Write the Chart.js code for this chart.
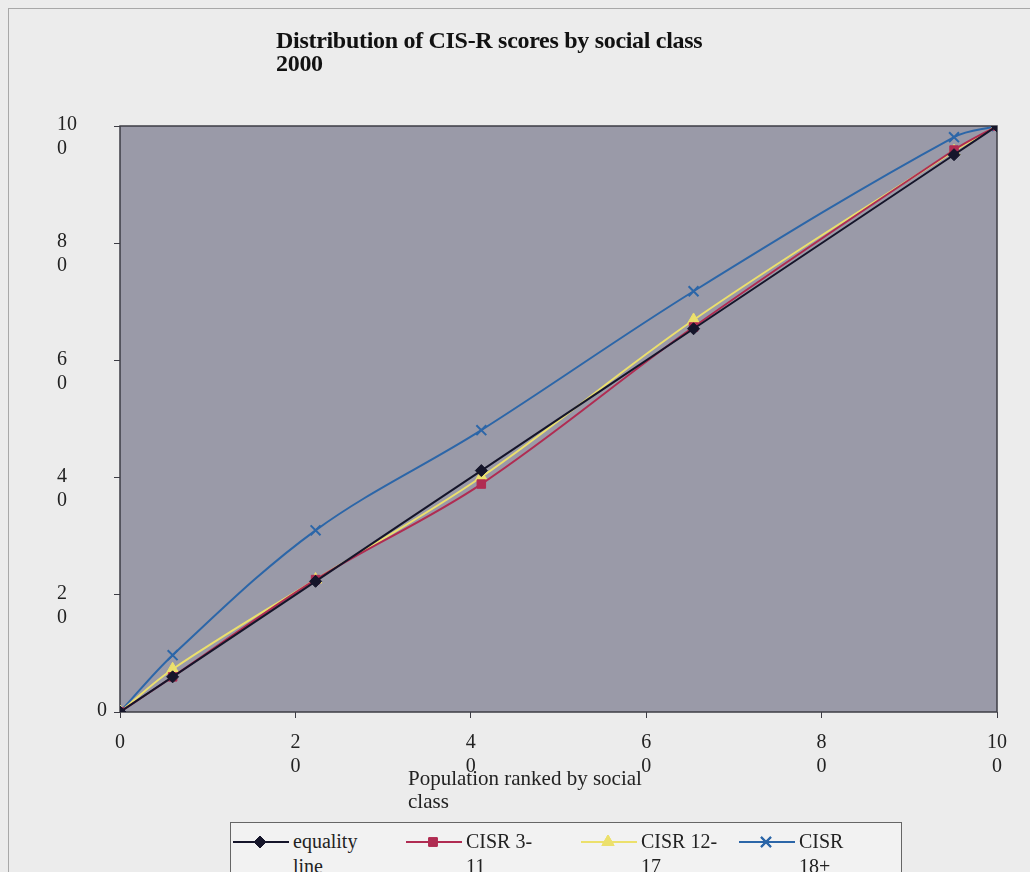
<!DOCTYPE html>
<html>
<head>
  <title>CIS-R scores by social class</title>
  <script src="https://cdn.jsdelivr.net/npm/chart.js"></script>
  <style>
    body { margin: 0; background: #ececec; font-family: "Liberation Serif", serif; }
    #frame { position: absolute; left: 8px; top: 8px; width: 1022px; height: 864px;
             border-top: 1px solid #a8a8a8; border-left: 1px solid #a8a8a8; overflow: hidden; }
    #wrap { position: absolute; left: 0; top: 0; width: 1030px; height: 800px; }
    #title { position: absolute; left: 276px; top: 29px; font-weight: bold; font-size: 24px; line-height: 23px; color: #111; letter-spacing: -0.3px; }
    #xTitle { position: absolute; left: 408px; top: 767px; font-size: 21px; line-height: 23px; color: #222; }
    #legend { position: absolute; left: 230px; top: 822px; width: 670px; height: 60px;
              border: 1px solid #666; background: #f2f2f2; }
    .item { position: absolute; top: 6px; font-size: 20px; line-height: 25px; color: #222; }
    .item canvas { position: absolute; left: 0; top: 3px; }
    .item span { position: absolute; left: 60px; top: 0; white-space: nowrap; }
  </style>
</head>
<body>
  <div id="frame"></div>
  <div id="wrap"><canvas id="chart" width="1030" height="800"></canvas></div>
  <div id="title">Distribution of CIS-R scores by social class<br>2000</div>
  <div id="xTitle">Population ranked by social<br>class</div>
  <div id="legend"></div>

  <script>
    // cumulative population share (x) and cumulative score share (y)
    const popShare   = [0, 6.0, 22.3, 41.2, 65.4, 95.1, 100];
    const equality   = [0, 6.0, 22.3, 41.2, 65.4, 95.1, 100];
    const cisr3to11  = [0, 6.0, 22.6, 38.9, 65.7, 95.9, 100];
    const cisr12to17 = [0, 7.3, 22.6, 40.1, 66.9, 95.7, 100];
    const cisr18plus = [0, 9.7, 31.0, 48.1, 71.8, 98.1, 100];
    const tickValues = [0, 20, 40, 60, 80, 100];

    const seriesInfo = [
      { label: 'equality line', text: ['equality', 'line'], data: equality,   color: '#15152a', style: 'rectRot', radius: 6 },
      { label: 'CISR 3-11',     text: ['CISR 3-', '11'],    data: cisr3to11,  color: '#b02c52', style: 'rect',    radius: 6 },
      { label: 'CISR 12-17',    text: ['CISR 12-', '17'],   data: cisr12to17, color: '#ece06c', style: 'triangle', radius: 7 },
      { label: 'CISR 18+',      text: ['CISR', '18+'],      data: cisr18plus, color: '#2c66a8', style: 'crossRot', radius: 7 }
    ];

    // Excel splits the two-digit tick numbers over two lines
    function splitTick(v) {
      const s = String(v);
      return s.length > 1 ? [s.slice(0, s.length - 1), s.slice(-1)] : [s, ''];
    }

    const plotBackground = {
      id: 'plotBackground',
      beforeDraw(chart) {
        const { ctx, chartArea: a } = chart;
        ctx.save();
        ctx.fillStyle = '#9a9aa8';
        ctx.fillRect(a.left, a.top, a.right - a.left, a.bottom - a.top);
        ctx.strokeStyle = '#3c3c44';
        ctx.lineWidth = 1.5;
        ctx.strokeRect(a.left, a.top, a.right - a.left, a.bottom - a.top);
        ctx.restore();
      }
    };

    const ctx = document.getElementById('chart').getContext('2d');
    new Chart(ctx, {
      type: 'line',
      data: {
        datasets: seriesInfo.map(s => ({
          label: s.label,
          data: popShare.map((x, i) => ({ x: x, y: s.data[i] })),
          borderColor: s.color,
          backgroundColor: s.color,
          borderWidth: 2,
          pointStyle: s.style,
          pointRadius: s.radius,
          pointBorderWidth: s.style === 'crossRot' ? 2 : 1,
          tension: 0.35
        }))
      },
      options: {
        responsive: false,
        animation: false,
        layout: { padding: { left: 57, right: 33, top: 126, bottom: 0 } },
        plugins: { legend: { display: false }, title: { display: false }, tooltip: { enabled: false } },
        scales: {
          x: {
            type: 'linear', min: 0, max: 100,
            afterBuildTicks: scale => { scale.ticks = tickValues.map(v => ({ value: v })); },
            afterFit: scale => { scale.height = 88; },
            grid: { drawOnChartArea: false, color: '#3c3c44', tickLength: 6 },
            border: { display: false },
            ticks: {
              color: '#222', padding: 13,
              font: { family: 'Liberation Serif', size: 20 },
              callback: v => splitTick(v)
            }
          },
          y: {
            type: 'linear', min: 0, max: 100,
            afterBuildTicks: scale => { scale.ticks = tickValues.map(v => ({ value: v })); },
            afterFit: scale => { scale.width = 63; },
            grid: { drawOnChartArea: false, color: '#3c3c44', tickLength: 6 },
            border: { display: false },
            ticks: {
              color: '#222', padding: 20, labelOffset: 11, crossAlign: 'far',
              font: { family: 'Liberation Serif', size: 20 },
              // the single-digit zero sits beside the axis
              callback: v => v === 0 ? ['\u2007\u2007\u2007\u20070', ''] : splitTick(v)
            }
          }
        }
      },
      plugins: [plotBackground]
    });

    // legend entries, markers drawn with the same point styles
    const legend = document.getElementById('legend');
    const lefts = [2, 175, 350, 508];
    seriesInfo.forEach((s, i) => {
      const item = document.createElement('div');
      item.className = 'item';
      item.style.left = lefts[i] + 'px';
      const c = document.createElement('canvas');
      c.width = 56; c.height = 20;
      const g = c.getContext('2d');
      g.strokeStyle = s.color; g.lineWidth = 2;
      g.beginPath(); g.moveTo(0, 10); g.lineTo(56, 10); g.stroke();
      g.fillStyle = s.color; g.lineWidth = s.style === 'crossRot' ? 2 : 1;
      Chart.helpers.drawPoint(g, { pointStyle: s.style, radius: s.radius, borderWidth: g.lineWidth }, 27, 10);
      g.fill(); g.stroke();
      const t = document.createElement('span');
      t.innerHTML = s.text.join('<br>');
      item.appendChild(c);
      item.appendChild(t);
      legend.appendChild(item);
    });
  </script>
</body>
</html>
